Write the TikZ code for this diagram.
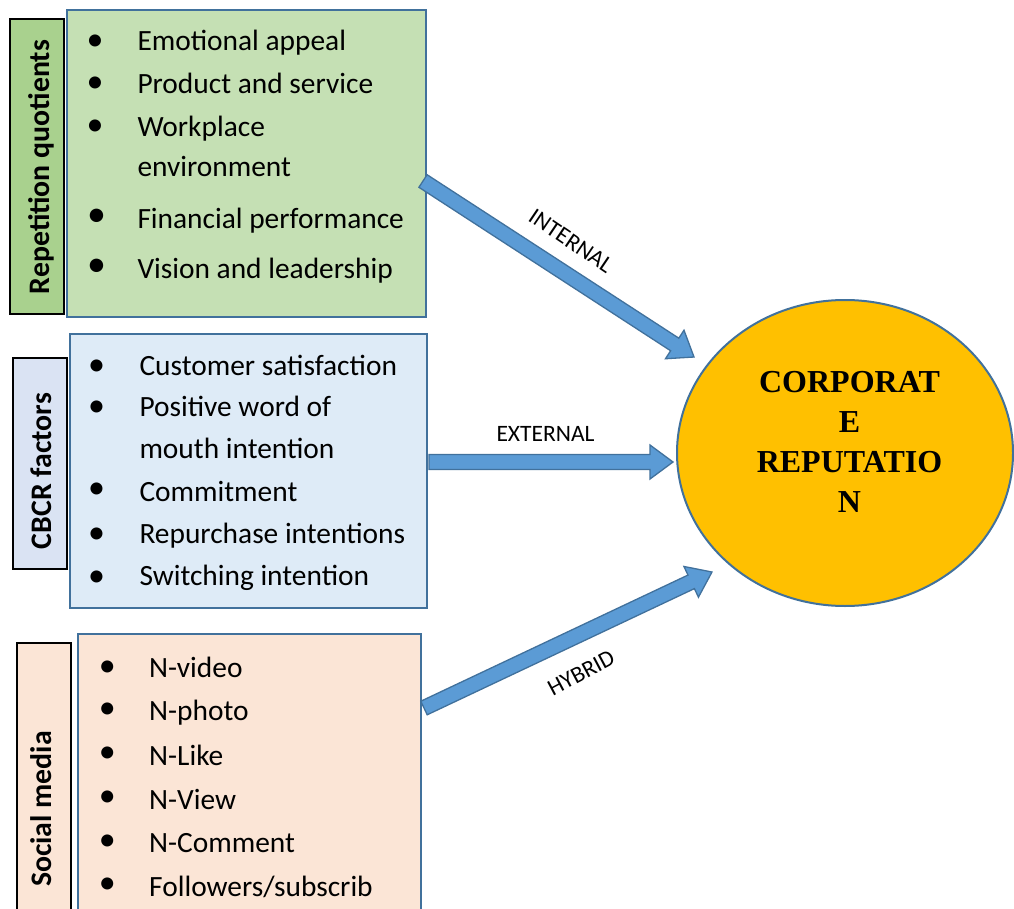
\documentclass[tikz,border=0pt]{standalone}
\usepackage{fontspec}
\setmainfont{Carlito}
\newfontfamily\tnrfont{Liberation Serif}
\usetikzlibrary{shapes.geometric}
\definecolor{gfill}{HTML}{C5E0B4}
\definecolor{glbl}{HTML}{A9D18E}
\definecolor{bfill}{HTML}{DEEBF7}
\definecolor{blbl}{HTML}{DAE3F3}
\definecolor{pfill}{HTML}{FBE5D6}
\definecolor{edgeblue}{HTML}{41719C}
\definecolor{afill}{HTML}{5B9BD5}
\definecolor{gold}{HTML}{FFC000}
\newdimen\arAx \newdimen\arAy \newdimen\arBx \newdimen\arBy
\newcommand{\blockarrow}[2]{%
 \pgfextractx{\arAx}{\pgfpointanchor{#1}{center}}%
 \pgfextracty{\arAy}{\pgfpointanchor{#1}{center}}%
 \pgfextractx{\arBx}{\pgfpointanchor{#2}{center}}%
 \pgfextracty{\arBy}{\pgfpointanchor{#2}{center}}%
 \pgfmathsetmacro{\arang}{atan2(\arBy-\arAy,\arBx-\arAx)}%
 \pgfmathsetmacro{\arlen}{veclen(\arBx-\arAx,\arBy-\arAy)}%
 \draw[barrow,shift={(#1)},rotate=\arang] (0,7.5) -- (\arlen-23,7.5) -- (\arlen-23,17) -- (\arlen,0) -- (\arlen-23,-17) -- (\arlen-23,-7.5) -- (0,-7.5) -- cycle;}
\tikzset{
 mainbox/.style={draw=edgeblue, line width=2pt, inner sep=0},
 sidebox/.style={draw=black, line width=1.2pt, inner sep=0},
 item/.style={anchor=base west, inner sep=0, font=\fontsize{29.4}{34}\selectfont},
 dotitem/.style={anchor=center, inner sep=0, font=\fontsize{34}{34}\selectfont},
 sidetext/.style={anchor=base, rotate=90, inner sep=0, font=\bfseries\fontsize{29.8}{34}\selectfont},
 arrowlbl/.style={inner sep=0, font=\fontsize{23.5}{26}\selectfont},
 barrow/.style={draw=edgeblue, fill=afill, line width=1.3pt, line join=miter},
}
\begin{document}
\begin{tikzpicture}[x=1pt,y=-1pt]
\useasboundingbox (0,0) rectangle (1014,909);
\clip (0,0) rectangle (1014,909);
\fill[white] (0,0) rectangle (1014,909);
% green group
\node[mainbox, fill=gfill, minimum width=359pt, minimum height=307pt] (gbox) at (246.5,163.5) {};
\node[sidebox, fill=glbl, minimum width=54pt, minimum height=295pt] (glab) at (37,166.5) {};
\node[sidetext] (gtxt) at (49,167) {Repetition quotients};
\node[dotitem] (gd1) at (95,42.3) {•};
\node[dotitem] (gd2) at (95,85) {•};
\node[dotitem] (gd3) at (95,127.7) {•};
\node[dotitem, font=\fontsize{38}{38}\selectfont] (gd4) at (96.7,218.3) {•};
\node[dotitem, font=\fontsize{38}{38}\selectfont] (gd5) at (96.7,268.3) {•};
\node[item] (g1) at (137.3,50.7) {Emotional appeal};
\node[item] (g2) at (137.3,94) {Product and service};
\node[item] (g3) at (137.3,136.7) {Workplace};
\node[item] (g4) at (137.3,176.7) {environment};
\node[item] (g5) at (137.3,228.3) {Financial performance};
\node[item] (g6) at (137.3,278.3) {Vision and leadership};
% blue group
\node[mainbox, fill=bfill, minimum width=357pt, minimum height=274pt] (bbox) at (248.5,471) {};
\node[sidebox, fill=blbl, minimum width=54pt, minimum height=211pt] (blab) at (40,463.5) {};
\node[sidetext] (btxt) at (51.7,471) {CBCR factors};
\node[dotitem] (bd1) at (96.7,367.7) {•};
\node[dotitem] (bd2) at (96.7,408.3) {•};
\node[dotitem] (bd3) at (96.7,490.7) {•};
\node[dotitem] (bd4) at (96.7,535.7) {•};
\node[dotitem] (bd5) at (96.7,578.3) {•};
\node[item] (b1) at (139.3,375) {Customer satisfaction};
\node[item] (b2) at (139.3,416.7) {Positive word of};
\node[item] (b3) at (139.3,458.3) {mouth intention};
\node[item] (b4) at (139.3,501) {Commitment};
\node[item] (b5) at (139.3,543.3) {Repurchase intentions};
\node[item] (b6) at (139.3,585.7) {Switching intention};
% peach group
\node[mainbox, fill=pfill, minimum width=343pt, minimum height=326pt] (pbox) at (249.5,797) {};
\node[sidebox, fill=pfill, minimum width=54pt, minimum height=317pt] (plab) at (44,801.5) {};
\node[sidetext] (ptxt) at (51.7,809) {Social media};
\node[dotitem] (pd1) at (107.3,669) {•};
\node[dotitem] (pd2) at (107.3,710.7) {•};
\node[dotitem] (pd3) at (107.3,755) {•};
\node[dotitem] (pd4) at (107.3,799) {•};
\node[dotitem] (pd5) at (107.3,842.7) {•};
\node[dotitem] (pd6) at (107.3,885.7) {•};
\node[item] (p1) at (149,677.3) {N-video};
\node[item] (p2) at (149,720.7) {N-photo};
\node[item] (p3) at (149,765.7) {N-Like};
\node[item] (p4) at (149,809) {N-View};
\node[item] (p5) at (149,852.7) {N-Comment};
\node[item] (p6) at (149,896.7) {Followers/subscrib};
% ellipse
\node[ellipse, draw=edgeblue, line width=2pt, fill=gold, minimum width=336pt, minimum height=306pt, inner sep=0] (cr) at (845,453) {};
\node[inner sep=0, align=center, font=\tnrfont\bfseries\fontsize{32}{40}\selectfont] (crtxt) at (849.5,442) {CORPORAT\\E\\REPUTATIO\\N};
% arrows
\coordinate (intS) at (423,181);
\coordinate (intE) at (694,357);
\coordinate (extS) at (429,462);
\coordinate (extE) at (673,462);
\coordinate (hybS) at (424,708);
\coordinate (hybE) at (712,572);
\blockarrow{intS}{intE}
\blockarrow{extS}{extE}
\blockarrow{hybS}{hybE}
\node[arrowlbl, rotate=-34] (intL) at (571,241) {INTERNAL};
\node[arrowlbl, anchor=base] (extL) at (545.5,441) {EXTERNAL};
\node[arrowlbl, rotate=28] (hybL) at (581,673) {HYBRID};
\end{tikzpicture}
\end{document}
